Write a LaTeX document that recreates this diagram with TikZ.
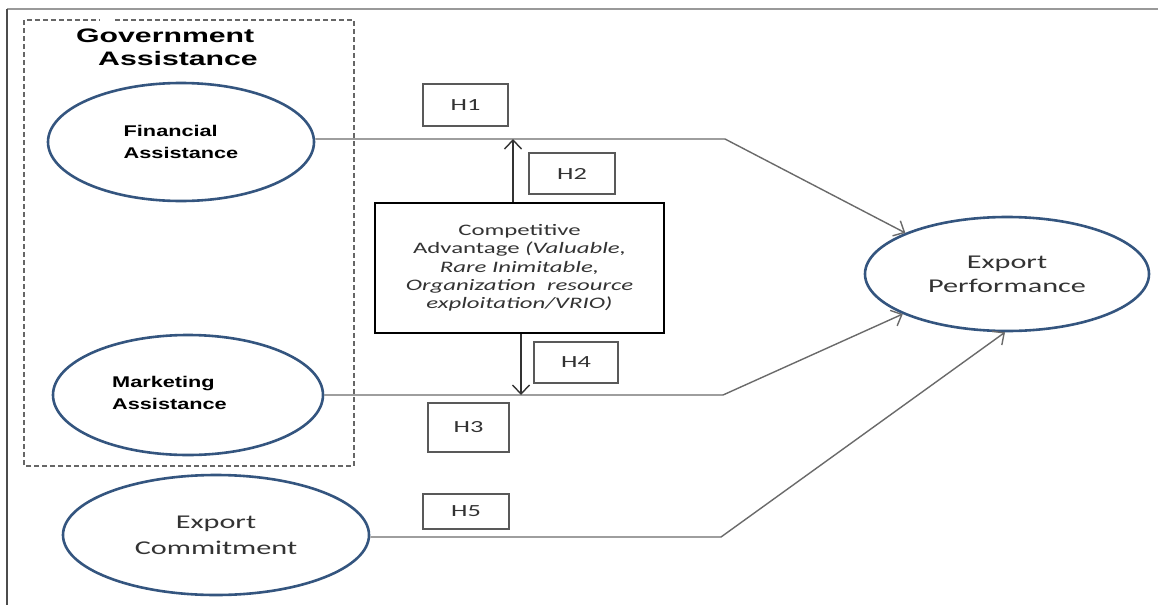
\documentclass[tikz,border=0pt]{standalone}
\usepackage{fontspec}
\setmainfont{Carlito}
\newfontfamily\govfont[FakeStretch=1.55]{Liberation Sans}
\newfontfamily\asstfont[FakeStretch=1.4]{Liberation Sans}
\newfontfamily\calst[FakeStretch=1.55]{Carlito}
\usetikzlibrary{shapes.geometric,arrows.meta}
\definecolor{ellblue}{HTML}{34557F}
\definecolor{linegray}{HTML}{6A6A6A}
\definecolor{txtgray}{HTML}{333333}
\begin{document}
\begin{tikzpicture}[x=1pt,y=-1pt,
  oval/.style={ellipse,draw=ellblue,line width=2.6pt,inner sep=0pt,fill=white},
  hbox/.style={draw=black!65,line width=1.2pt,inner sep=0pt,text=txtgray,
    font=\calst\fontsize{17}{20}\selectfont},
  conn/.style={draw=linegray,line width=1.4pt},
  tip/.style={-{Straight Barb[length=9pt,width=17pt,line width=1.4pt]}},
  boldtxt/.style={align=left,anchor=west,text=black,inner sep=0pt,
    font=\asstfont\bfseries\fontsize{15.5}{21.5}\selectfont},
  caltxt/.style={align=center,text=txtgray,font=\calst\fontsize{19.5}{24}\selectfont},
]
\useasboundingbox (0,0) rectangle (1158,605);
\fill[white] (0,0) rectangle (1158,605);
% outer frame (partially visible)
\draw[line width=2.5pt,draw=black!40] (7,9) -- (1158,9);
\draw[line width=2pt,draw=black!70] (7,9) -- (7,605);
% dashed group
\draw[draw=black!60,line width=1.5pt,dash pattern=on 5pt off 3pt]
  (115,20) -- (354,20) -- (354,466) -- (24,466) -- (24,20) -- (100,20);
\node[anchor=west,align=left,inner sep=0pt,text=black,
  font=\govfont\bfseries\fontsize{19.5}{23}\selectfont] (gov) at (76,47)
  {Government\\\hspace*{22pt}Assistance};
% ellipses
\node[oval,minimum width=266pt,minimum height=118pt,align=left,text=black,
  font=\asstfont\bfseries\fontsize{15.5}{21.5}\selectfont] (fin) at (181,142)
  {Financial\\Assistance};
\node[oval,minimum width=270pt,minimum height=120pt] (mkt) at (188,395) {};
\node[boldtxt] (mkttxt) at (112,393) {Marketing\\Assistance};
\node[oval,caltxt,minimum width=306pt,minimum height=120pt,
  font=\calst\fontsize{19.5}{26}\selectfont] (com) at (216,535) {Export\\Commitment};
\node[oval,caltxt,minimum width=284pt,minimum height=114pt] (ep) at (1007,274)
  {Export\\Performance};
% competitive advantage box
\node[draw=black,line width=2.8pt,minimum width=289pt,minimum height=130pt,
  align=center,text=txtgray,inner sep=0pt,font=\calst\fontsize{16}{18.3}\selectfont]
  (ca) at (519.5,268)
  {Competitive\\Advantage \textit{(Valuable,}\\\textit{Rare Inimitable,}\\
   \textit{Organization\ \ resource}\\\textit{exploitation/VRIO)}};
% hypothesis boxes
\node[hbox,minimum width=85pt,minimum height=42pt] (h1) at (465.5,105) {H1};
\node[hbox,minimum width=86pt,minimum height=41pt] (h2) at (572,173.5) {H2};
\node[hbox,minimum width=84pt,minimum height=41pt] (h4) at (576,362.5) {H4};
\node[hbox,minimum width=81pt,minimum height=49pt] (h3) at (468.5,427.5) {H3};
\node[hbox,minimum width=86pt,minimum height=35pt] (h5) at (466,511.5) {H5};
% connectors
\coordinate (b1) at (725,139);
\coordinate (b2) at (723,395);
\coordinate (b3) at (721,537);
\draw[conn,tip] (fin.east |- b1) -- (b1) -- (ep.158);
\draw[conn,tip] (mkt.east) -- (b2) -- (ep.201);
\draw[conn,tip] (com.east |- b3) -- (b3) -- (ep.268);
\draw[conn,tip,draw=black!80] ([xshift=-6.5pt]ca.north) -- ([xshift=-6.5pt]ca.north |- b1);
\draw[conn,tip,draw=black!80] ([xshift=1.5pt]ca.south) -- ([xshift=1.5pt]ca.south |- b2);
\end{tikzpicture}
\end{document}
